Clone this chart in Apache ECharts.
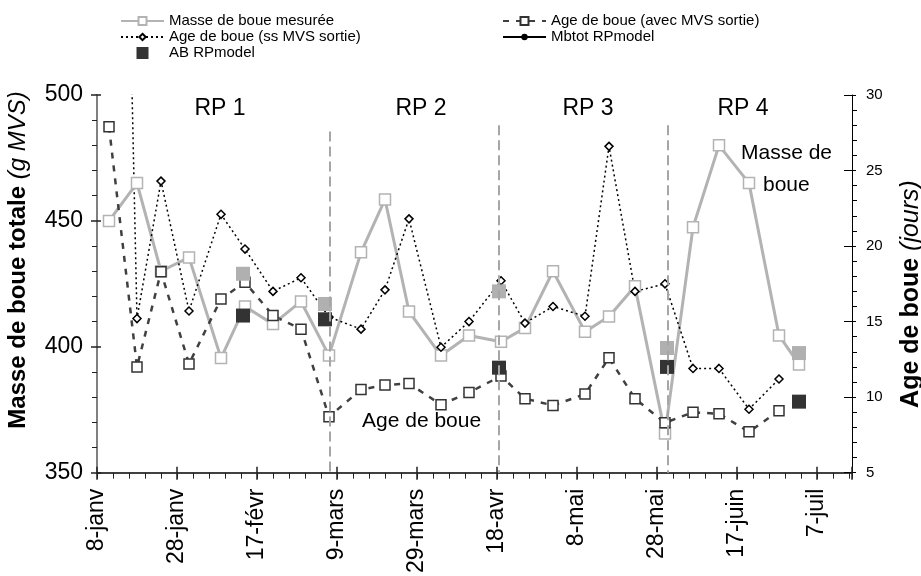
<!DOCTYPE html>
<html><head><meta charset="utf-8">
<script src="https://cdn.jsdelivr.net/npm/echarts@6/dist/echarts.min.js"></script>
<style>html,body{margin:0;padding:0;background:#fff}#c{width:921px;height:576px}</style>
</head><body><div id="c"></div>
<script>
// ---- data (x = days after 8-janv) ----
const xTickDays = [0, 20, 40, 60, 80, 100, 120, 140, 160, 180];
const xTickLabels = ['8-janv', '28-janv', '17-févr', '9-mars', '29-mars', '18-avr', '8-mai', '28-mai', '17-juin', '7-juil'];
const measDays = [3, 10, 16, 23, 31, 37, 44, 51, 58, 66, 72, 78, 86, 93, 101, 107, 114, 122, 128, 134.5, 142, 149, 155.5, 163, 170.5, 175.5];
const masseMesuree = [450, 465, 430, 435.5, 395.5, 416, 409, 418, 396.5, 437.5, 458.5, 414, 396.5, 404.5, 402, 407.5, 430, 406, 412, 424, 365.5, 447.5, 480, 465, 404.5, 393];
const ageDays = [3, 10, 16, 23, 31, 37, 44, 51, 58, 66, 72, 78, 86, 93, 101, 107, 114, 122, 128, 134.5, 142, 149, 155.5, 163, 170.5];
const ageAvecMVS = [27.9, 12.0, 18.3, 12.2, 16.5, 17.6, 15.4, 14.5, 8.7, 10.5, 10.8, 10.9, 9.5, 10.3, 11.4, 9.9, 9.45, 10.2, 12.6, 9.9, 8.3, 9.0, 8.9, 7.7, 9.1];
const ageSsMVS = [100, 15.2, 24.3, 15.7, 22.1, 19.8, 17.0, 17.9, 15.3, 14.5, 17.1, 21.8, 13.3, 15.0, 17.7, 14.9, 16.0, 15.35, 26.6, 17.0, 17.5, 11.9, 11.9, 9.2, 11.2];
const modelDays = [36.5, 57, 100.5, 142.5, 175.5];
const mbtotModel = [429, 417, 422, 399.5, 397.5];
const abModel = [15.4, 15.15, 11.95, 12.0, 9.7];
const phaseDays = [58.25, 100.5, 142.75];
const phaseNames = ['RP 1', 'RP 2', 'RP 3', 'RP 4'];

const FF = 'Liberation Sans, Arial, sans-serif';
const pairs = (xs, ys) => xs.map((x, i) => [x, ys[i]]);
const xLabel = v => { const i = xTickDays.indexOf(Math.round(v)); return (i >= 0 && Math.abs(v - xTickDays[i]) < 1e-6) ? xTickLabels[i] : ''; };

const chart = echarts.init(document.getElementById('c'), null, {renderer: 'canvas'});
const XMAX = 188.75;
const baseX = {type: 'value', min: 0, max: XMAX, position: 'bottom', splitLine: {show: false}, gridIndex: 0};
const baseYL = {type: 'value', position: 'left', min: 350, max: 500, interval: 50, splitLine: {show: false}};
const baseYR = {type: 'value', position: 'right', min: 5, max: 30, interval: 5, splitLine: {show: false}};
const legendBase = {padding: 0, selectedMode: false, itemGap: 0, textStyle: {color: '#000', fontSize: 15, fontFamily: FF, lineHeight: 16}};

chart.setOption({
  animation: false,
  backgroundColor: '#fff',
  grid: {left: 97, right: 69, top: 95, bottom: 101},
  xAxis: [
    Object.assign({}, baseX, {interval: 20,
      axisLine: {onZero: false, lineStyle: {color: '#404040', width: 2}},
      axisTick: {length: 7, lineStyle: {color: '#222', width: 1.5}},
      axisLabel: {rotate: 90, fontSize: 23, fontFamily: FF, color: '#000', margin: 16, formatter: xLabel}}),
    Object.assign({}, baseX, {interval: 4,
      axisLine: {show: false, onZero: false}, axisTick: {length: 6, lineStyle: {color: '#222', width: 1}}, axisLabel: {show: false}}),
    Object.assign({}, baseX, {interval: 20,
      axisLine: {show: false, onZero: false}, axisTick: {inside: true, length: 6, lineStyle: {color: '#222', width: 1.5}}, axisLabel: {show: false}})
  ],
  yAxis: [
    Object.assign({}, baseYL, {
      axisLine: {show: true, onZero: false, lineStyle: {color: '#808080', width: 2}},
      axisTick: {show: true, length: 6, lineStyle: {color: '#222', width: 1.5}},
      minorTick: {show: true, splitNumber: 5, length: 5, lineStyle: {color: '#222', width: 1}},
      axisLabel: {fontSize: 23, fontFamily: FF, color: '#000', margin: 14}}),
    Object.assign({}, baseYR, {
      axisLine: {show: true, onZero: false, lineStyle: {color: '#000', width: 1}},
      axisTick: {show: true, length: 4, lineStyle: {color: '#000', width: 1}},
      minorTick: {show: true, splitNumber: 5, length: 5, lineStyle: {color: '#000', width: 1}},
      axisLabel: {fontSize: 15, fontFamily: FF, color: '#000', margin: 14}}),
    Object.assign({}, baseYL, {
      axisLine: {show: false, onZero: false}, axisTick: {show: true, inside: true, length: 4, lineStyle: {color: '#222', width: 1.5}}, axisLabel: {show: false}}),
    Object.assign({}, baseYR, {
      axisLine: {show: false, onZero: false}, axisTick: {show: true, inside: true, length: 8, lineStyle: {color: '#000', width: 1}}, axisLabel: {show: false}})
  ],
  legend: [
    Object.assign({}, legendBase, {left: 120, top: 13, itemWidth: 43, itemHeight: 10, data: ['Masse de boue mesurée']}),
    Object.assign({}, legendBase, {left: 120, top: 29, itemWidth: 43, itemHeight: 8, data: ['Age de boue (ss MVS sortie)']}),
    Object.assign({}, legendBase, {left: 120, top: 45, itemWidth: 43, itemHeight: 15, data: [{name: 'AB RPmodel', lineStyle: {opacity: 0}}]}),
    Object.assign({}, legendBase, {left: 502, top: 13, itemWidth: 43, itemHeight: 10, data: ['Age de boue (avec MVS sortie)']}),
    Object.assign({}, legendBase, {left: 502, top: 29, itemWidth: 43, itemHeight: 8, data: ['Mbtot RPmodel']})
  ],
  series: [
    // legend-only entry giving the "Mbtot RPmodel" key its line + dot look (no data)
    {name: 'Mbtot RPmodel', type: 'line', xAxisIndex: 0, yAxisIndex: 0, data: [],
      symbol: 'circle', itemStyle: {color: '#000'}, lineStyle: {color: '#000', width: 1.5}, silent: true},
    {name: 'Masse de boue mesurée', type: 'line', xAxisIndex: 0, yAxisIndex: 0, data: pairs(measDays, masseMesuree),
      symbol: 'rect', symbolSize: 11, itemStyle: {color: '#fff', borderColor: '#b3b3b3', borderWidth: 1.5},
      lineStyle: {color: '#b3b3b3', width: 3}, silent: true,
      markLine: {silent: true, symbol: 'none', label: {show: false},
        lineStyle: {color: '#a6a6a6', width: 2, type: [10, 5]},
        data: phaseDays.map((d, i) => [{coord: [d, i === 0 ? 485.5 : 488]}, {coord: [d, 350]}])}},
    {name: 'Age de boue (avec MVS sortie)', type: 'line', xAxisIndex: 0, yAxisIndex: 1, data: pairs(ageDays, ageAvecMVS),
      symbol: 'rect', symbolSize: 10, itemStyle: {color: '#fff', borderColor: '#333', borderWidth: 1.5},
      lineStyle: {color: '#404040', width: 2.5, type: [6, 7]}, silent: true},
    {name: 'Age de boue (ss MVS sortie)', type: 'line', xAxisIndex: 0, yAxisIndex: 1, data: pairs(ageDays, ageSsMVS),
      symbol: 'diamond', symbolSize: 8, itemStyle: {color: '#fff', borderColor: '#000', borderWidth: 1.5},
      lineStyle: {color: '#000', width: 1.5, type: [2, 3]}, silent: true, clip: true},
    {name: 'Mbtot RPmodel', type: 'line', xAxisIndex: 0, yAxisIndex: 0, data: pairs(modelDays, mbtotModel),
      symbol: 'rect', symbolSize: 14, itemStyle: {color: '#b0b0b0'}, lineStyle: {opacity: 0}, silent: true},
    {name: 'AB RPmodel', type: 'line', xAxisIndex: 0, yAxisIndex: 1, data: pairs(modelDays, abModel),
      symbol: 'rect', symbolSize: 14, itemStyle: {color: '#333'}, lineStyle: {opacity: 0}, silent: true}
  ],
  graphic: [
    {type: 'text', x: 220, y: 109, style: {text: phaseNames[0], font: '23px ' + FF, fill: '#000', align: 'center', verticalAlign: 'middle'}},
    {type: 'text', x: 421, y: 109, style: {text: phaseNames[1], font: '23px ' + FF, fill: '#000', align: 'center', verticalAlign: 'middle'}},
    {type: 'text', x: 588, y: 109, style: {text: phaseNames[2], font: '23px ' + FF, fill: '#000', align: 'center', verticalAlign: 'middle'}},
    {type: 'text', x: 743, y: 109, style: {text: phaseNames[3], font: '23px ' + FF, fill: '#000', align: 'center', verticalAlign: 'middle'}},
    {type: 'text', x: 741, y: 153, style: {text: 'Masse de', font: '21px ' + FF, fill: '#000', align: 'left', verticalAlign: 'middle'}},
    {type: 'text', x: 763, y: 185, style: {text: 'boue', font: '21px ' + FF, fill: '#000', align: 'left', verticalAlign: 'middle'}},
    {type: 'text', x: 362, y: 421, style: {text: 'Age de boue', font: '21px ' + FF, fill: '#000', align: 'left', verticalAlign: 'middle'}},
    {type: 'text', x: 18, y: 260, rotation: Math.PI / 2, style: {text: '{b|Masse de boue totale }{i|(g MVS)}', align: 'center', verticalAlign: 'middle', fill: '#000',
      rich: {b: {fontWeight: 'bold', fontSize: 24, fontFamily: FF, fill: '#000'}, i: {fontStyle: 'italic', fontSize: 24, fontFamily: FF, fill: '#000'}}}},
    {type: 'text', x: 911, y: 294, rotation: Math.PI / 2, style: {text: '{b|Age de boue }{i|(jours)}', align: 'center', verticalAlign: 'middle', fill: '#000',
      rich: {b: {fontWeight: 'bold', fontSize: 25, fontFamily: FF, fill: '#000'}, i: {fontStyle: 'italic', fontSize: 25, fontFamily: FF, fill: '#000'}}}}
  ]
});
</script></body></html>
